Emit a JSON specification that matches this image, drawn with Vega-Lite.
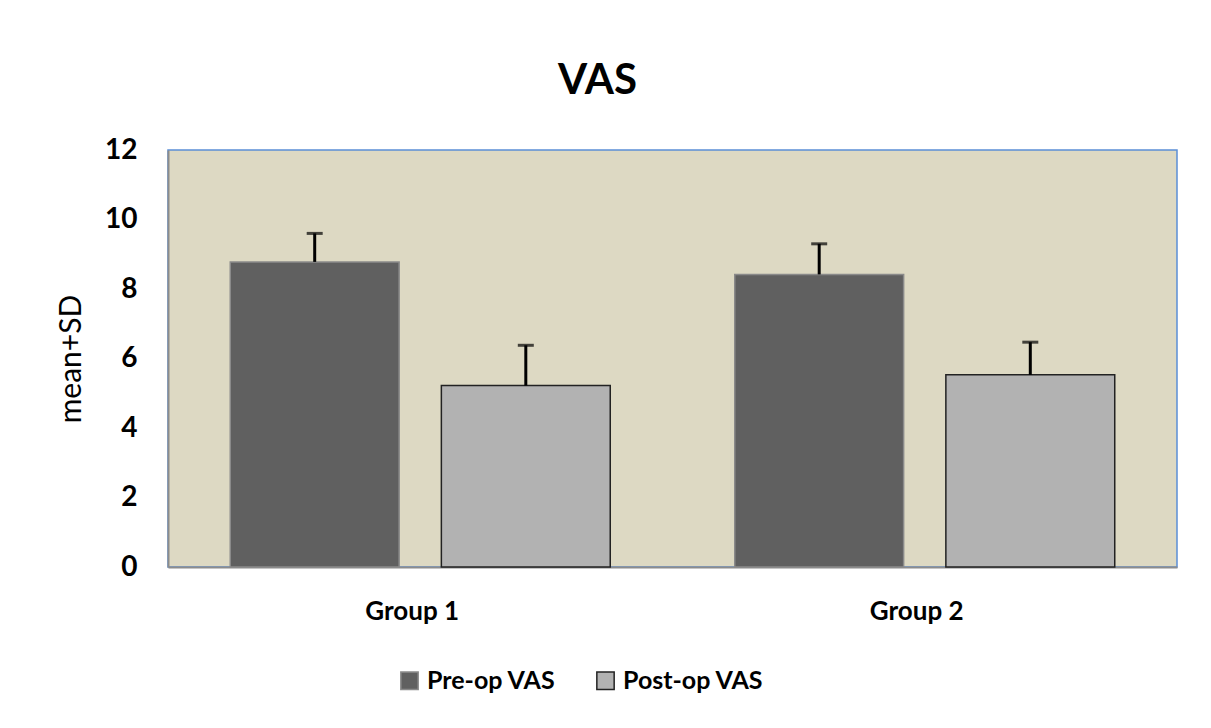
{
  "$schema": "https://vega.github.io/schema/vega-lite/v6.json",
  "autosize": {"type": "none"},
  "width": 1009,
  "height": 417,
  "padding": {"left": 168, "top": 150, "right": 34, "bottom": 161},
  "background": "white",
  "title": {"text": "VAS", "fontSize": 42, "font": "Lato", "fontWeight": "bold", "color": "#000", "anchor": "middle", "dx": -75, "offset": 33},
  "config": {
    "font": "Lato",
    "view": {"stroke": "#5b8fd6", "strokeWidth": 1.5, "fill": "#ddd9c3"}
  },
  "data": {"values": [
    {"group": "Group 1", "series": "Pre-op VAS", "mean": 8.78, "upper": 9.6},
    {"group": "Group 1", "series": "Post-op VAS", "mean": 5.22, "upper": 6.38},
    {"group": "Group 2", "series": "Pre-op VAS", "mean": 8.42, "upper": 9.3},
    {"group": "Group 2", "series": "Post-op VAS", "mean": 5.53, "upper": 6.47}
  ]},
  "encoding": {
    "x": {"field": "group", "type": "nominal", "scale": {"paddingInner": 0.2468, "paddingOuter": 0.1234},
      "axis": {"title": null, "labelAngle": 0, "labelFontSize": 26, "labelFontWeight": "bold", "labelColor": "#000", "labelPadding": 31, "labelOffset": -8, "ticks": false, "domainColor": "#8c8c8c", "domainWidth": 2}},
    "xOffset": {"field": "series", "type": "nominal", "sort": ["Pre-op VAS", "Post-op VAS"], "scale": {"paddingInner": 0.2, "paddingOuter": 0}}
  },
  "layer": [
    {
      "mark": {"type": "bar", "strokeWidth": 1.5},
      "encoding": {
        "y": {"field": "mean", "type": "quantitative", "scale": {"domain": [0, 12]},
          "axis": {"title": "mean+SD", "titleFontSize": 30, "titleFontWeight": "normal", "titleColor": "#000", "titlePadding": 18,
            "values": [0, 2, 4, 6, 8, 10, 12], "labelFontSize": 28, "labelFontWeight": "bold", "labelColor": "#000", "labelPadding": 31, "ticks": false, "grid": false, "domainColor": "#8c8c8c", "domainWidth": 2}},
        "fill": {"field": "series", "type": "nominal", "scale": {"domain": ["Pre-op VAS", "Post-op VAS"], "range": ["#606060", "#b2b2b2"]},
          "legend": {"title": null, "orient": "none", "direction": "horizontal", "legendX": 229, "legendY": 518, "symbolType": "square", "symbolSize": 300, "labelFontSize": 25, "labelFontWeight": "bold", "labelColor": "#000", "columnPadding": 37, "labelOffset": 5}},
        "stroke": {"field": "series", "type": "nominal", "scale": {"domain": ["Pre-op VAS", "Post-op VAS"], "range": ["#8a8a8a", "#222222"]}}
      }
    },
    {
      "mark": {"type": "rule", "color": "#000", "strokeWidth": 3},
      "encoding": {
        "y": {"field": "mean", "type": "quantitative"},
        "y2": {"field": "upper"}
      }
    },
    {
      "mark": {"type": "tick", "color": "#000", "thickness": 3, "size": 16},
      "encoding": {
        "y": {"field": "upper", "type": "quantitative"}
      }
    }
  ]
}
